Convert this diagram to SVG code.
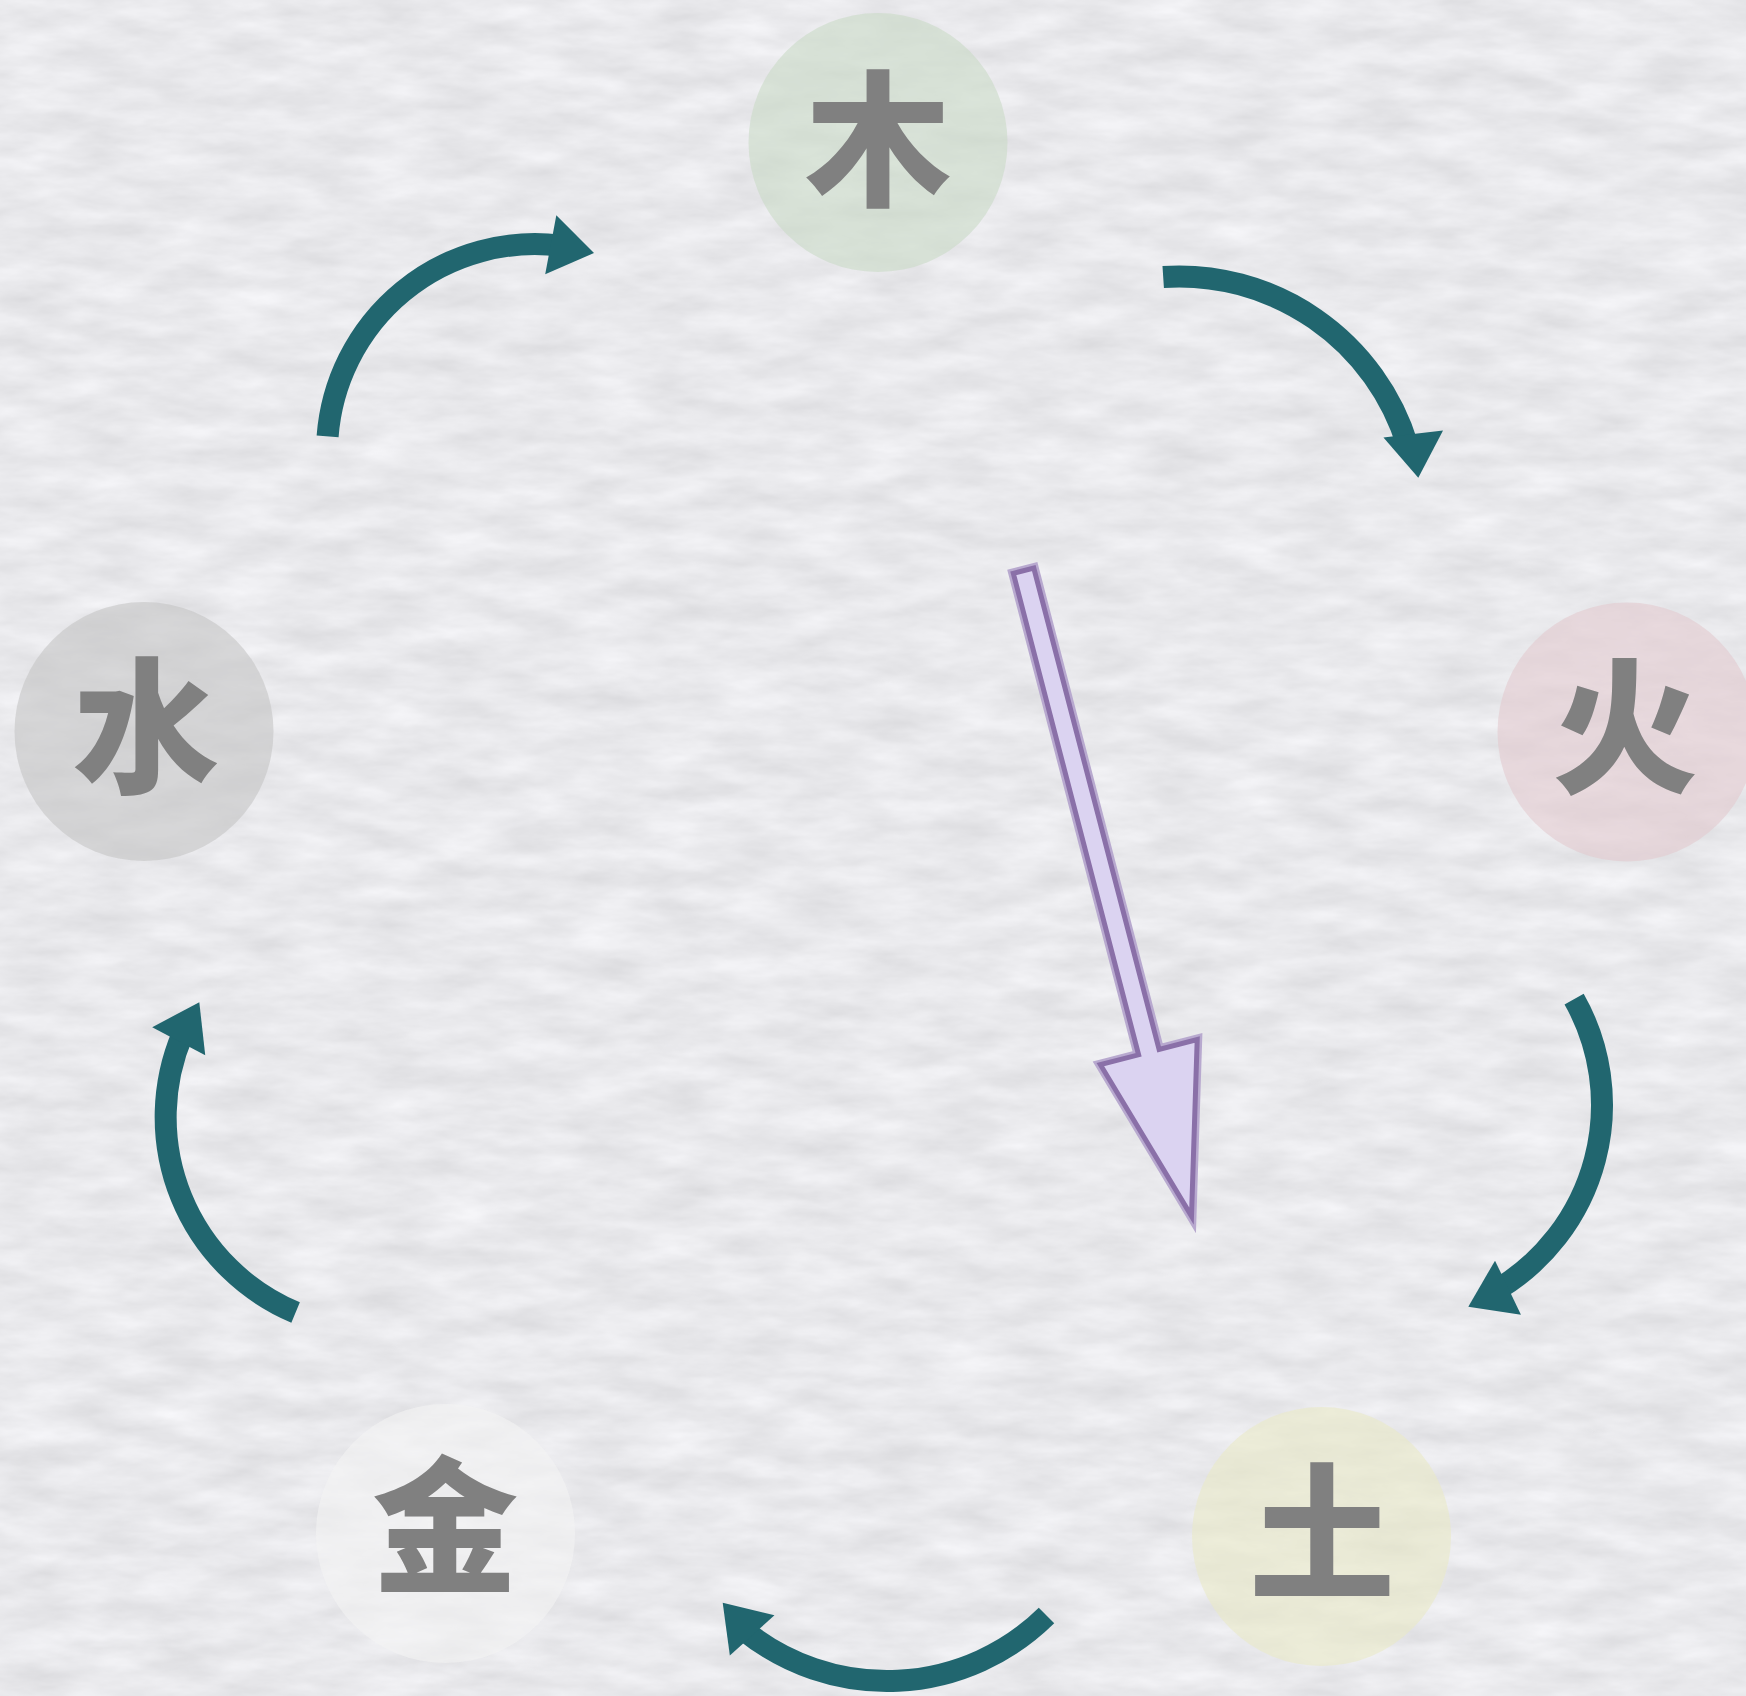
<svg xmlns="http://www.w3.org/2000/svg" width="1746" height="1696" viewBox="0 0 1746 1696">
<defs>
<style>
.disc{stroke:none;fill-opacity:0.6}
.label{font-family:"Noto Sans CJK SC","Noto Sans CJK JP",sans-serif;font-weight:900;font-size:146px;fill:#808080;text-anchor:middle}
.flow{fill:none;stroke:#21666f;stroke-width:22;stroke-linecap:butt}
.head{fill:#21666f}
.big-under{fill:none;stroke:#b8a9cf;stroke-width:10;stroke-linejoin:miter;stroke-miterlimit:20}
.big{fill:#dbd3f1;stroke:#8a70a8;stroke-width:5;stroke-linejoin:miter;stroke-miterlimit:20}
</style>
<filter id="paper" filterUnits="userSpaceOnUse" x="0" y="0" width="1746" height="1696" color-interpolation-filters="sRGB">
<feTurbulence type="fractalNoise" baseFrequency="0.014 0.045" numOctaves="4" seed="7" result="noise"/>
<feColorMatrix in="noise" type="matrix" values="0.12 0 0 0 0.853  0.12 0 0 0 0.853  0.12 0 0 0 0.865  0 0 0 0 1"/>
</filter>
<path id="ah" d="M0,0 L-44,-30 L-44,30 Z"/>
</defs>
<rect width="1746" height="1696" fill="#e9e9ec"/>
<rect width="1746" height="1696" filter="url(#paper)"/>

<g id="node-wood">
<circle class="disc" cx="878" cy="142.5" r="129.5" fill="#c9dac6"/>
<text class="label" x="878" y="194">木</text>
</g>
<g id="node-fire">
<circle class="disc" cx="1627" cy="732" r="129.5" fill="#e2c9ce"/>
<text class="label" x="1625" y="781">火</text>
</g>
<g id="node-earth">
<circle class="disc" cx="1321.5" cy="1536.5" r="129.5" fill="#e9e9c7"/>
<text class="label" x="1322" y="1587">土</text>
</g>
<g id="node-metal">
<circle class="disc" cx="445.5" cy="1533.5" r="129.5" fill="#f3f3f3"/>
<text class="label" x="445" y="1580">金</text>
</g>
<g id="node-water">
<circle class="disc" cx="144" cy="731.5" r="129.5" fill="#c4c4c4"/>
<text class="label" x="146" y="781">水</text>
</g>

<g id="connectors">
<path class="flow" d="M 327.6 436.4 A 208 208 0 0 1 560.4 245.6"/>
<use href="#ah" class="head" transform="translate(594,253) rotate(10.7)"/>
<path class="flow" d="M 1163.2 277.0 A 239 239 0 0 1 1407.6 445.6"/>
<use href="#ah" class="head" transform="translate(1418.3,477.7) rotate(83.4)"/>
<path class="flow" d="M 1574.1 999.1 A 215 215 0 0 1 1497.7 1289.3"/>
<use href="#ah" class="head" transform="translate(1468.3,1306.7) rotate(154.4)"/>
<path class="flow" d="M 1046.5 1615.5 A 227 227 0 0 1 744.1 1630.4"/>
<use href="#ah" class="head" transform="translate(722.7,1602.7) rotate(228)"/>
<path class="flow" d="M 295.6 1312.5 A 212 212 0 0 1 182.5 1034.2"/>
<use href="#ah" class="head" transform="translate(199.3,1002.3) rotate(-62.1)"/>
</g>

<g id="block-arrow">
<polygon class="big-under" points="1013.3,573.3 1033.8,568.0 1159.1,1049.4 1197.2,1039.5 1191.5,1216.1 1100.4,1064.7 1138.6,1054.8"/>
<polygon class="big" points="1013.3,573.3 1033.8,568.0 1159.1,1049.4 1197.2,1039.5 1191.5,1216.1 1100.4,1064.7 1138.6,1054.8"/>
</g>
</svg>
